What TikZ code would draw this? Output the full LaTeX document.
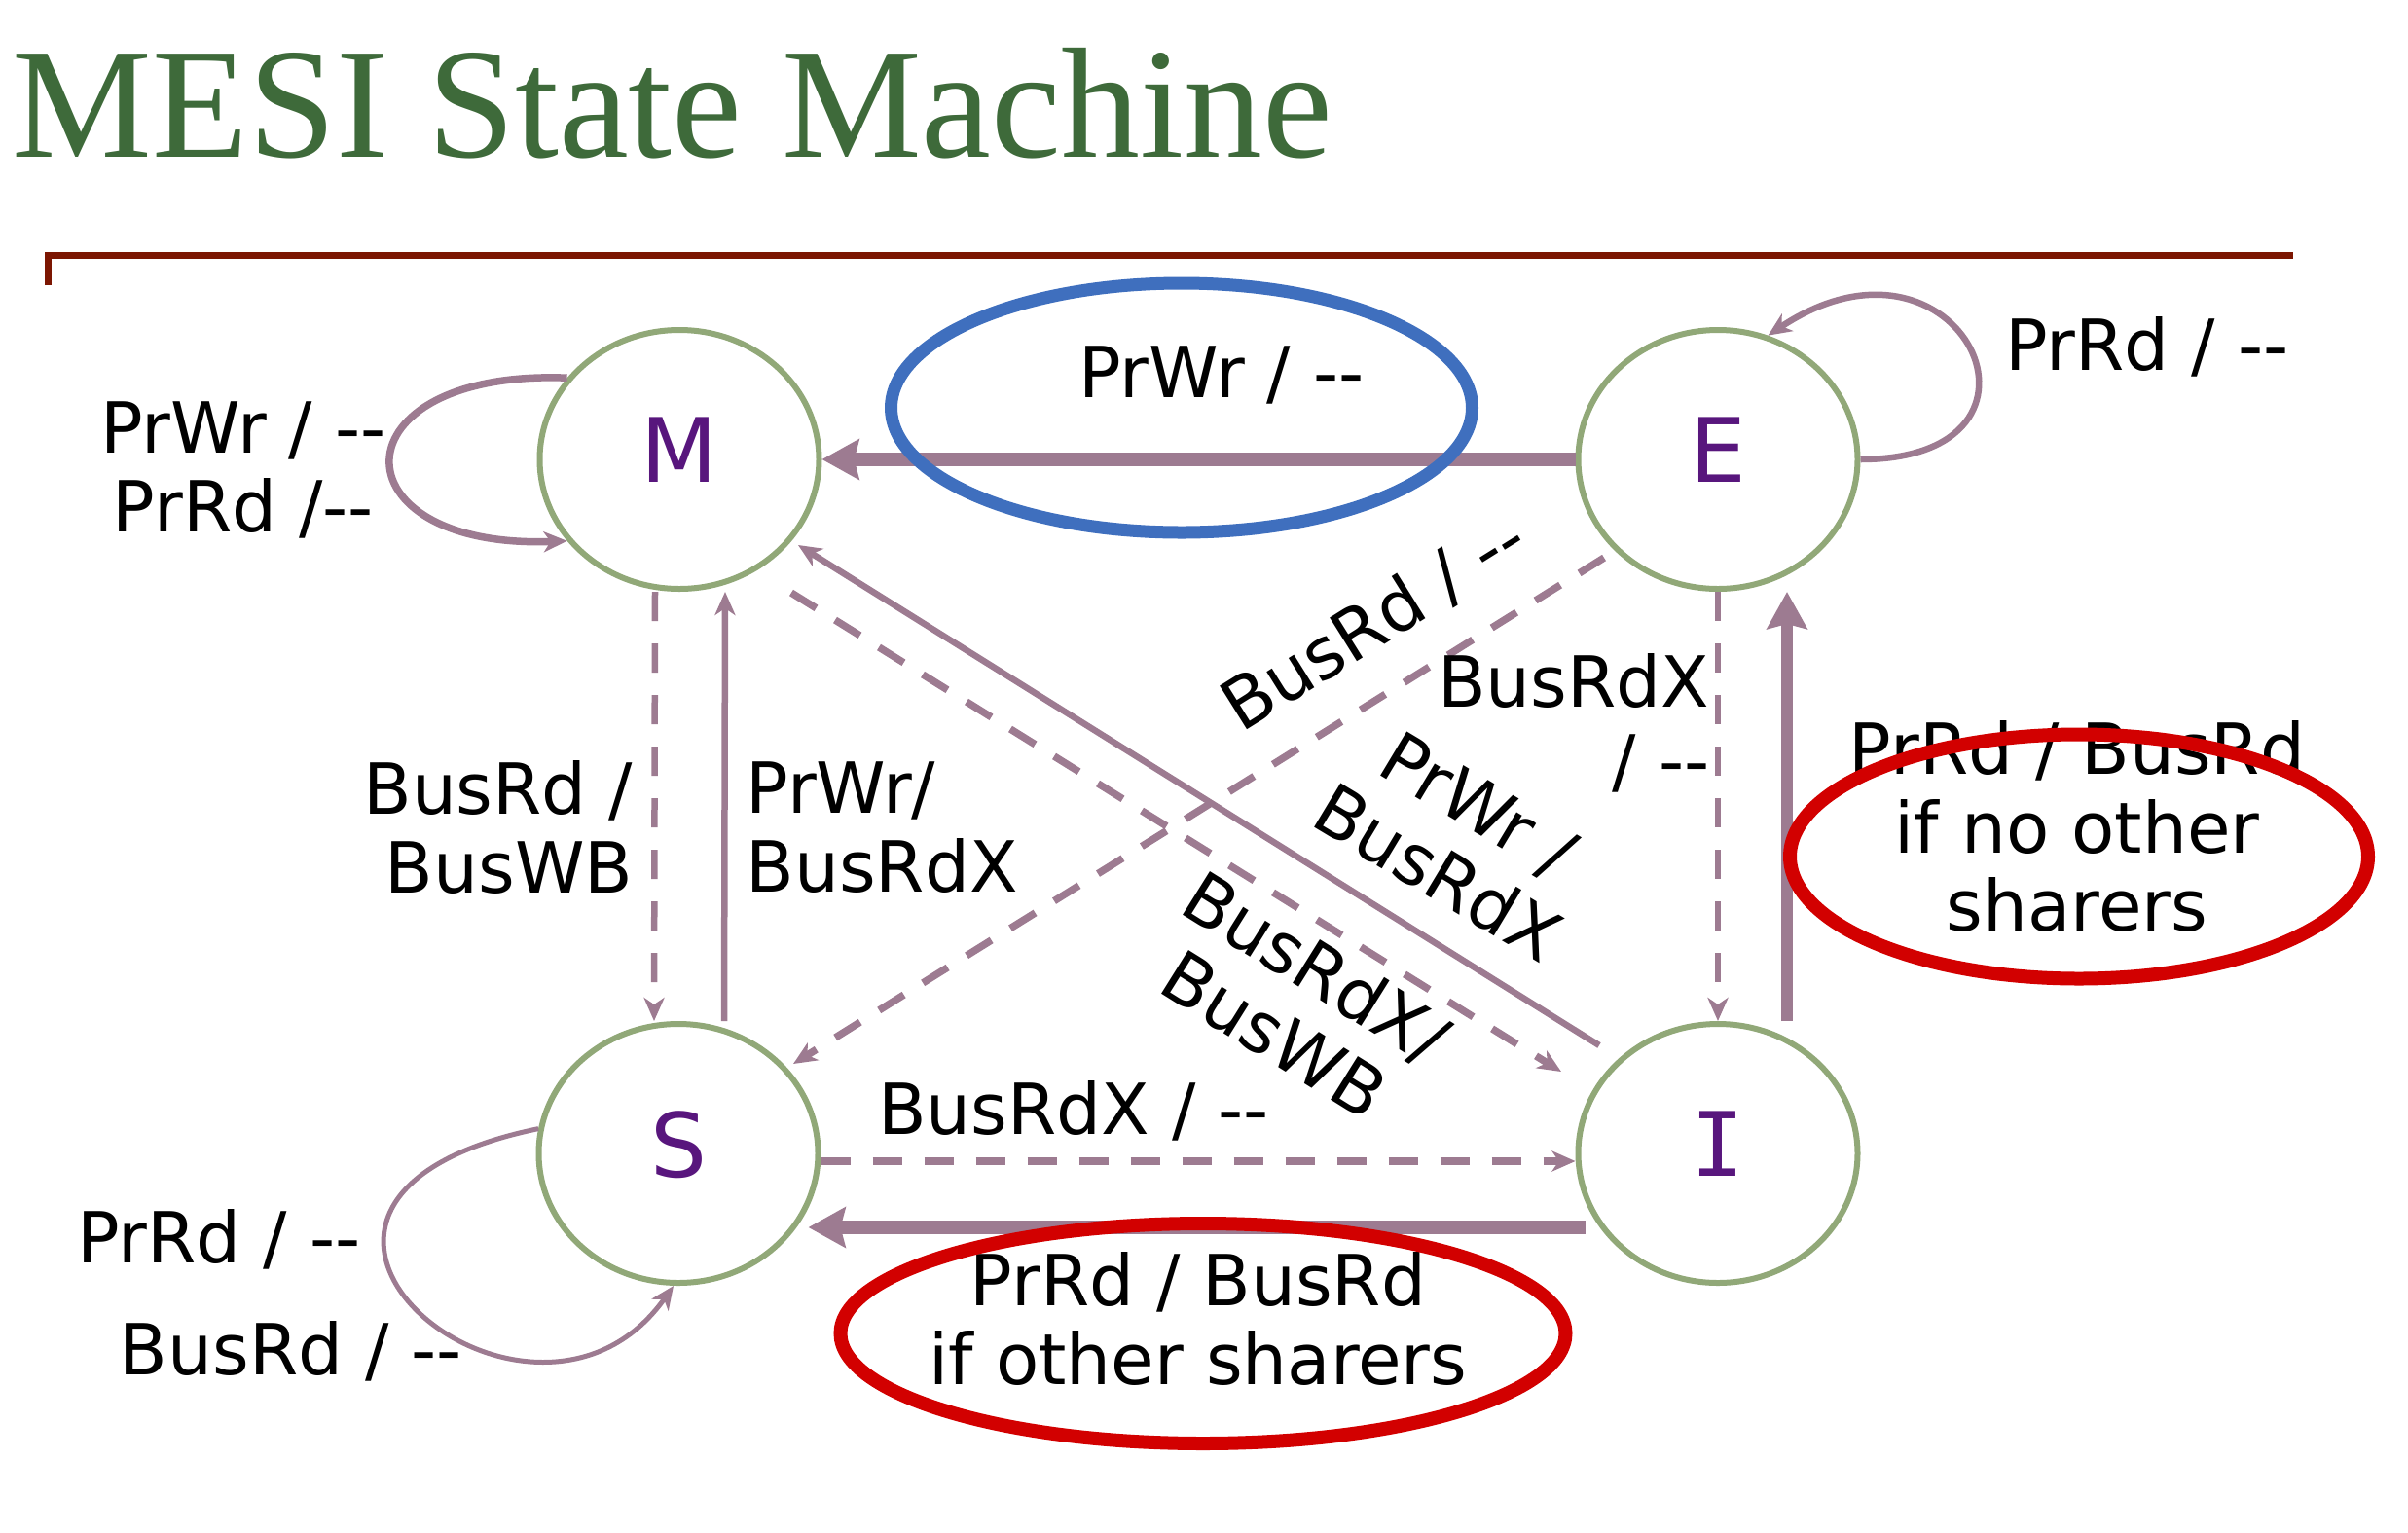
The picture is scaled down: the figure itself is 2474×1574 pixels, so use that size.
\documentclass[tikz,border=0pt]{standalone}
\usepackage{fontspec}
\setmainfont{DejaVu Sans}
\newfontfamily\titlefont{Liberation Serif}
\newfontfamily\slabfont{DejaVu Sans Mono}
\usetikzlibrary{arrows.meta,shapes.geometric}
\definecolor{titlegreen}{RGB}{62,106,58}
\definecolor{rulered}{RGB}{124,22,2}
\definecolor{ringgreen}{RGB}{145,168,120}
\definecolor{statepurple}{RGB}{88,22,125}
\definecolor{edgemauve}{RGB}{157,123,145}
\definecolor{hiblue}{RGB}{63,111,190}
\definecolor{hired}{RGB}{210,0,0}
\tikzset{
  statenode/.style={ellipse,draw=ringgreen,line width=0.6mm,minimum width=28.7mm,minimum height=26.6mm,
    inner sep=0pt,text depth=1.9mm,text=statepurple,font=\fontsize{26}{30}\selectfont},
  translabel/.style={inner sep=0pt,align=center,font=\fontsize{20.6}{23}\selectfont},
  txarrow/.style={draw=edgemauve,line width=0.65mm,-{Stealth[length=2.4mm,width=2.1mm,inset=0.7mm]}},
  snoopdash/.style={txarrow,dash pattern=on 3mm off 2.3mm},
  bigarrow/.style={draw=edgemauve,line width=1.4mm,-{Stealth[length=3.8mm,width=4.1mm,inset=0.5mm]}},
  hiring/.style={ellipse,line width=1.4mm,inner sep=0pt}
}

\begin{document}
\begin{tikzpicture}[x=0.1mm,y=-0.1mm]
  \useasboundingbox (0,0) rectangle (2474,1574);
  % title bar
  \node[anchor=base west,inner sep=0pt,text=titlegreen,font=\titlefont\fontsize{46}{50}\selectfont]
    (title) at (12,161) {MESI State Machine};
  \coordinate (ruleL) at (49,293);
  \coordinate (ruleC) at (49,262);
  \coordinate (ruleR) at (2356,262);
  \draw[rulered,line width=0.7mm] (ruleL) -- (ruleC) -- (ruleR);
  % states
  \node[statenode] (M) at (698,472) {M};
  \node[statenode] (E) at (1765,472) {E};
  \node[statenode] (S) at (697,1185) {S};
  \node[statenode] (I) at (1765,1185) {\slabfont I};
  % transitions
  \draw[bigarrow] (E.west) -- (M.east);
  \draw[bigarrow,line width=1.15mm] ([xshift=7.1mm]I.north) -- ([xshift=7.1mm]E.south);
  \draw[bigarrow,line width=1.35mm] ([xshift=1mm,yshift=-7.6mm]I.west) -- ([xshift=-1.3mm,yshift=-7.6mm]S.east);
  \draw[snoopdash,line width=0.8mm] ([yshift=-0.8mm]S.east) -- ([yshift=-0.8mm]I.west);
  \draw[snoopdash] (E.south) -- (I.north);
  \draw[snoopdash] ([xshift=-2.5mm]M.south) -- ([xshift=-2.5mm]S.north);
  \draw[txarrow] ([xshift=4.7mm]S.north) -- ([xshift=4.7mm]M.south);
  \draw[snoopdash,line width=0.75mm] ([shift={(-117,101)}]E.center) -- ([shift={(118,-92)}]S.center);
  \draw[txarrow] ([shift={(-122,-111)}]I.center) -- ([shift={(122,88)}]M.center);
  \draw[snoopdash,line width=0.75mm] ([shift={(115,137)}]M.center) -- ([shift={(-161,-84)}]I.center);
  \draw[txarrow,line width=0.75mm] (M.144) .. controls +(-241,-9) and +(-241,9) .. (M.216);
  \draw[txarrow,line width=0.65mm] (E.east) .. controls +(225,0) and +(198,-132) .. (E.68);
  \draw[txarrow,line width=0.5mm] (S.170) .. controls +(-364,75) and +(-147,208) .. ([xshift=-0.5mm]S.south);
  % labels
  \node[translabel,anchor=base] (lblEM) at (1255,408) {PrWr / -{}-};
  \node[translabel] (lblMM) at (250,483) {PrWr / -{}-\\PrRd /-{}-};
  \node[translabel,anchor=base] (lblEE) at (2206,380) {PrRd / -{}-};
  \node[translabel,align=right,anchor=east] (lblMS) at (651,850) {BusRd /\\BusWB};
  \node[translabel,align=left,anchor=west] (lblSM) at (766,850) {PrWr/\\BusRdX};
  \node[translabel,align=right,anchor=east] (lblEI) at (1757,743) {BusRdX\\/ -{}-};
  \node[translabel] (lblIE) at (2134,849) {PrRd / BusRd\\if no other\\sharers};
  \node[translabel,anchor=base] (lblSI) at (1103,1165) {BusRdX / -{}-};
  \node[translabel] (lblIS) at (1231,1355) {PrRd / BusRd\\if other sharers};
  \node[translabel,anchor=base] (lblSSa) at (225,1297) {PrRd / -{}-};
  \node[translabel,anchor=base] (lblSSb) at (299,1412) {BusRd / -{}-};
  \node[translabel,rotate=32] (lblES) at (1412,640) {BusRd / -{}-};
  \node[translabel,rotate=-31] (lblIM) at (1498,862) {PrWr /\\BusRdX};
  \node[translabel,rotate=-32] (lblMI) at (1331,1028) {BusRdX/\\BusWB};
  % highlight rings
  \node[hiring,draw=hiblue,line width=1.3mm,minimum width=59.7mm,minimum height=25.6mm] (ringEM) at (1214,419) {};
  \node[hiring,draw=hired,minimum width=59.4mm,minimum height=25.1mm] (ringIE) at (2136,880) {};
  \node[hiring,draw=hired,minimum width=74.5mm,minimum height=22.6mm] (ringIS) at (1236,1370) {};
\end{tikzpicture}
\end{document}
